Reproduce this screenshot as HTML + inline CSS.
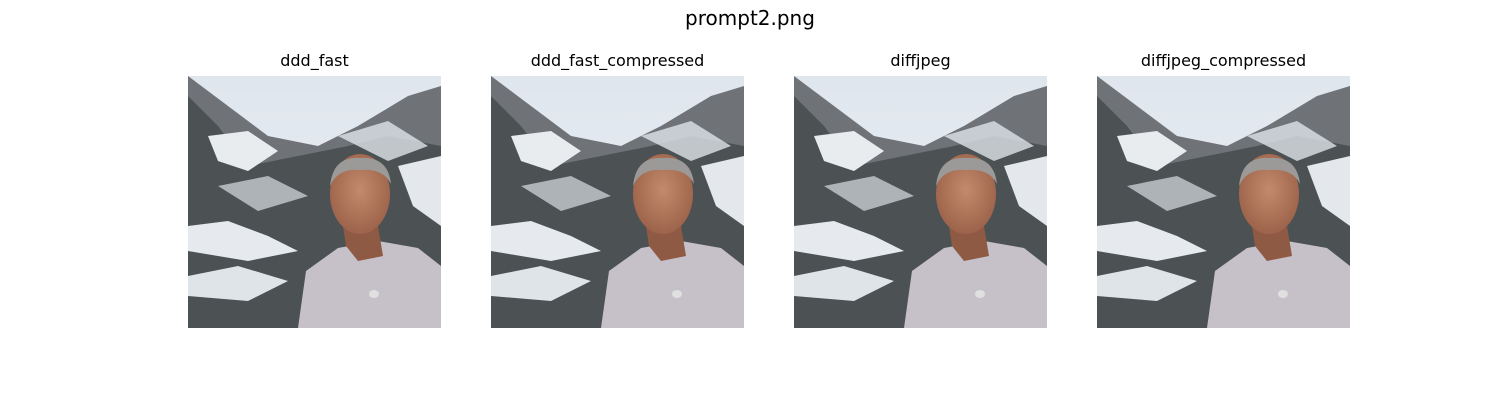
<!DOCTYPE html>
<html><head><meta charset="utf-8"><style>
body{margin:0;background:#fff;width:1500px;height:400px;position:relative;overflow:hidden;font-family:"DejaVu Sans","Liberation Sans",sans-serif;}
.t{position:absolute;top:6px;left:0;width:1500px;text-align:center;font-size:20px;color:#000;}
.s{position:absolute;top:51px;width:253px;text-align:center;font-size:16px;color:#000;}
svg{position:absolute;top:0;left:0;}
</style></head><body>
<div class="t">prompt2.png</div>
<div class="s" style="left:188px">ddd_fast</div>
<div class="s" style="left:491px">ddd_fast_compressed</div>
<div class="s" style="left:794px">diffjpeg</div>
<div class="s" style="left:1097px">diffjpeg_compressed</div>
<svg width="1500" height="400">
<defs>
<linearGradient id="sky" x1="0" y1="0" x2="0" y2="1"><stop offset="0" stop-color="#dfe6ee"/><stop offset="1" stop-color="#eef0f2"/></linearGradient>
<radialGradient id="face" cx="0.5" cy="0.45" r="0.6"><stop offset="0" stop-color="#c48a6c"/><stop offset="1" stop-color="#9a6048"/></radialGradient>
<g id="img">
<rect width="253" height="252" fill="url(#sky)"/>
<polygon points="0,0 40,30 80,60 130,70 170,50 220,20 253,10 253,252 0,252" fill="#6f7378"/>
<polygon points="0,20 30,50 60,90 110,80 160,70 200,60 253,70 253,252 0,252" fill="#4c5253"/>
<polygon points="20,60 60,55 90,75 60,95 30,85" fill="#e8ecef"/>
<polygon points="150,60 200,45 240,70 200,85" fill="#dde3e8" opacity=".8"/>
<polygon points="0,150 40,145 80,160 110,175 60,185 0,175" fill="#e6eaee"/>
<polygon points="0,200 50,190 100,205 60,225 0,220" fill="#dfe4e8"/>
<polygon points="210,90 253,80 253,150 225,130" fill="#e4e8ec"/>
<polygon points="30,110 80,100 120,120 70,135" fill="#d8dde2" opacity=".7"/>
<polygon points="110,252 118,195 150,172 190,165 230,172 253,190 253,252" fill="#c6c1c8"/>
<polygon points="155,150 190,150 195,180 170,185 158,170" fill="#8f5a44"/>
<ellipse cx="172" cy="118" rx="30" ry="40" fill="url(#face)"/>
<path d="M142,110 Q145,80 172,82 Q200,80 203,108 Q195,92 172,94 Q150,92 142,110Z" fill="#9c9a98"/>
<ellipse cx="186" cy="218" rx="5" ry="4" fill="#e0e0e0"/>
</g>
</defs>
<use href="#img" x="188" y="76"/>
<use href="#img" x="491" y="76"/>
<use href="#img" x="794" y="76"/>
<use href="#img" x="1097" y="76"/>
</svg>
</body></html>
